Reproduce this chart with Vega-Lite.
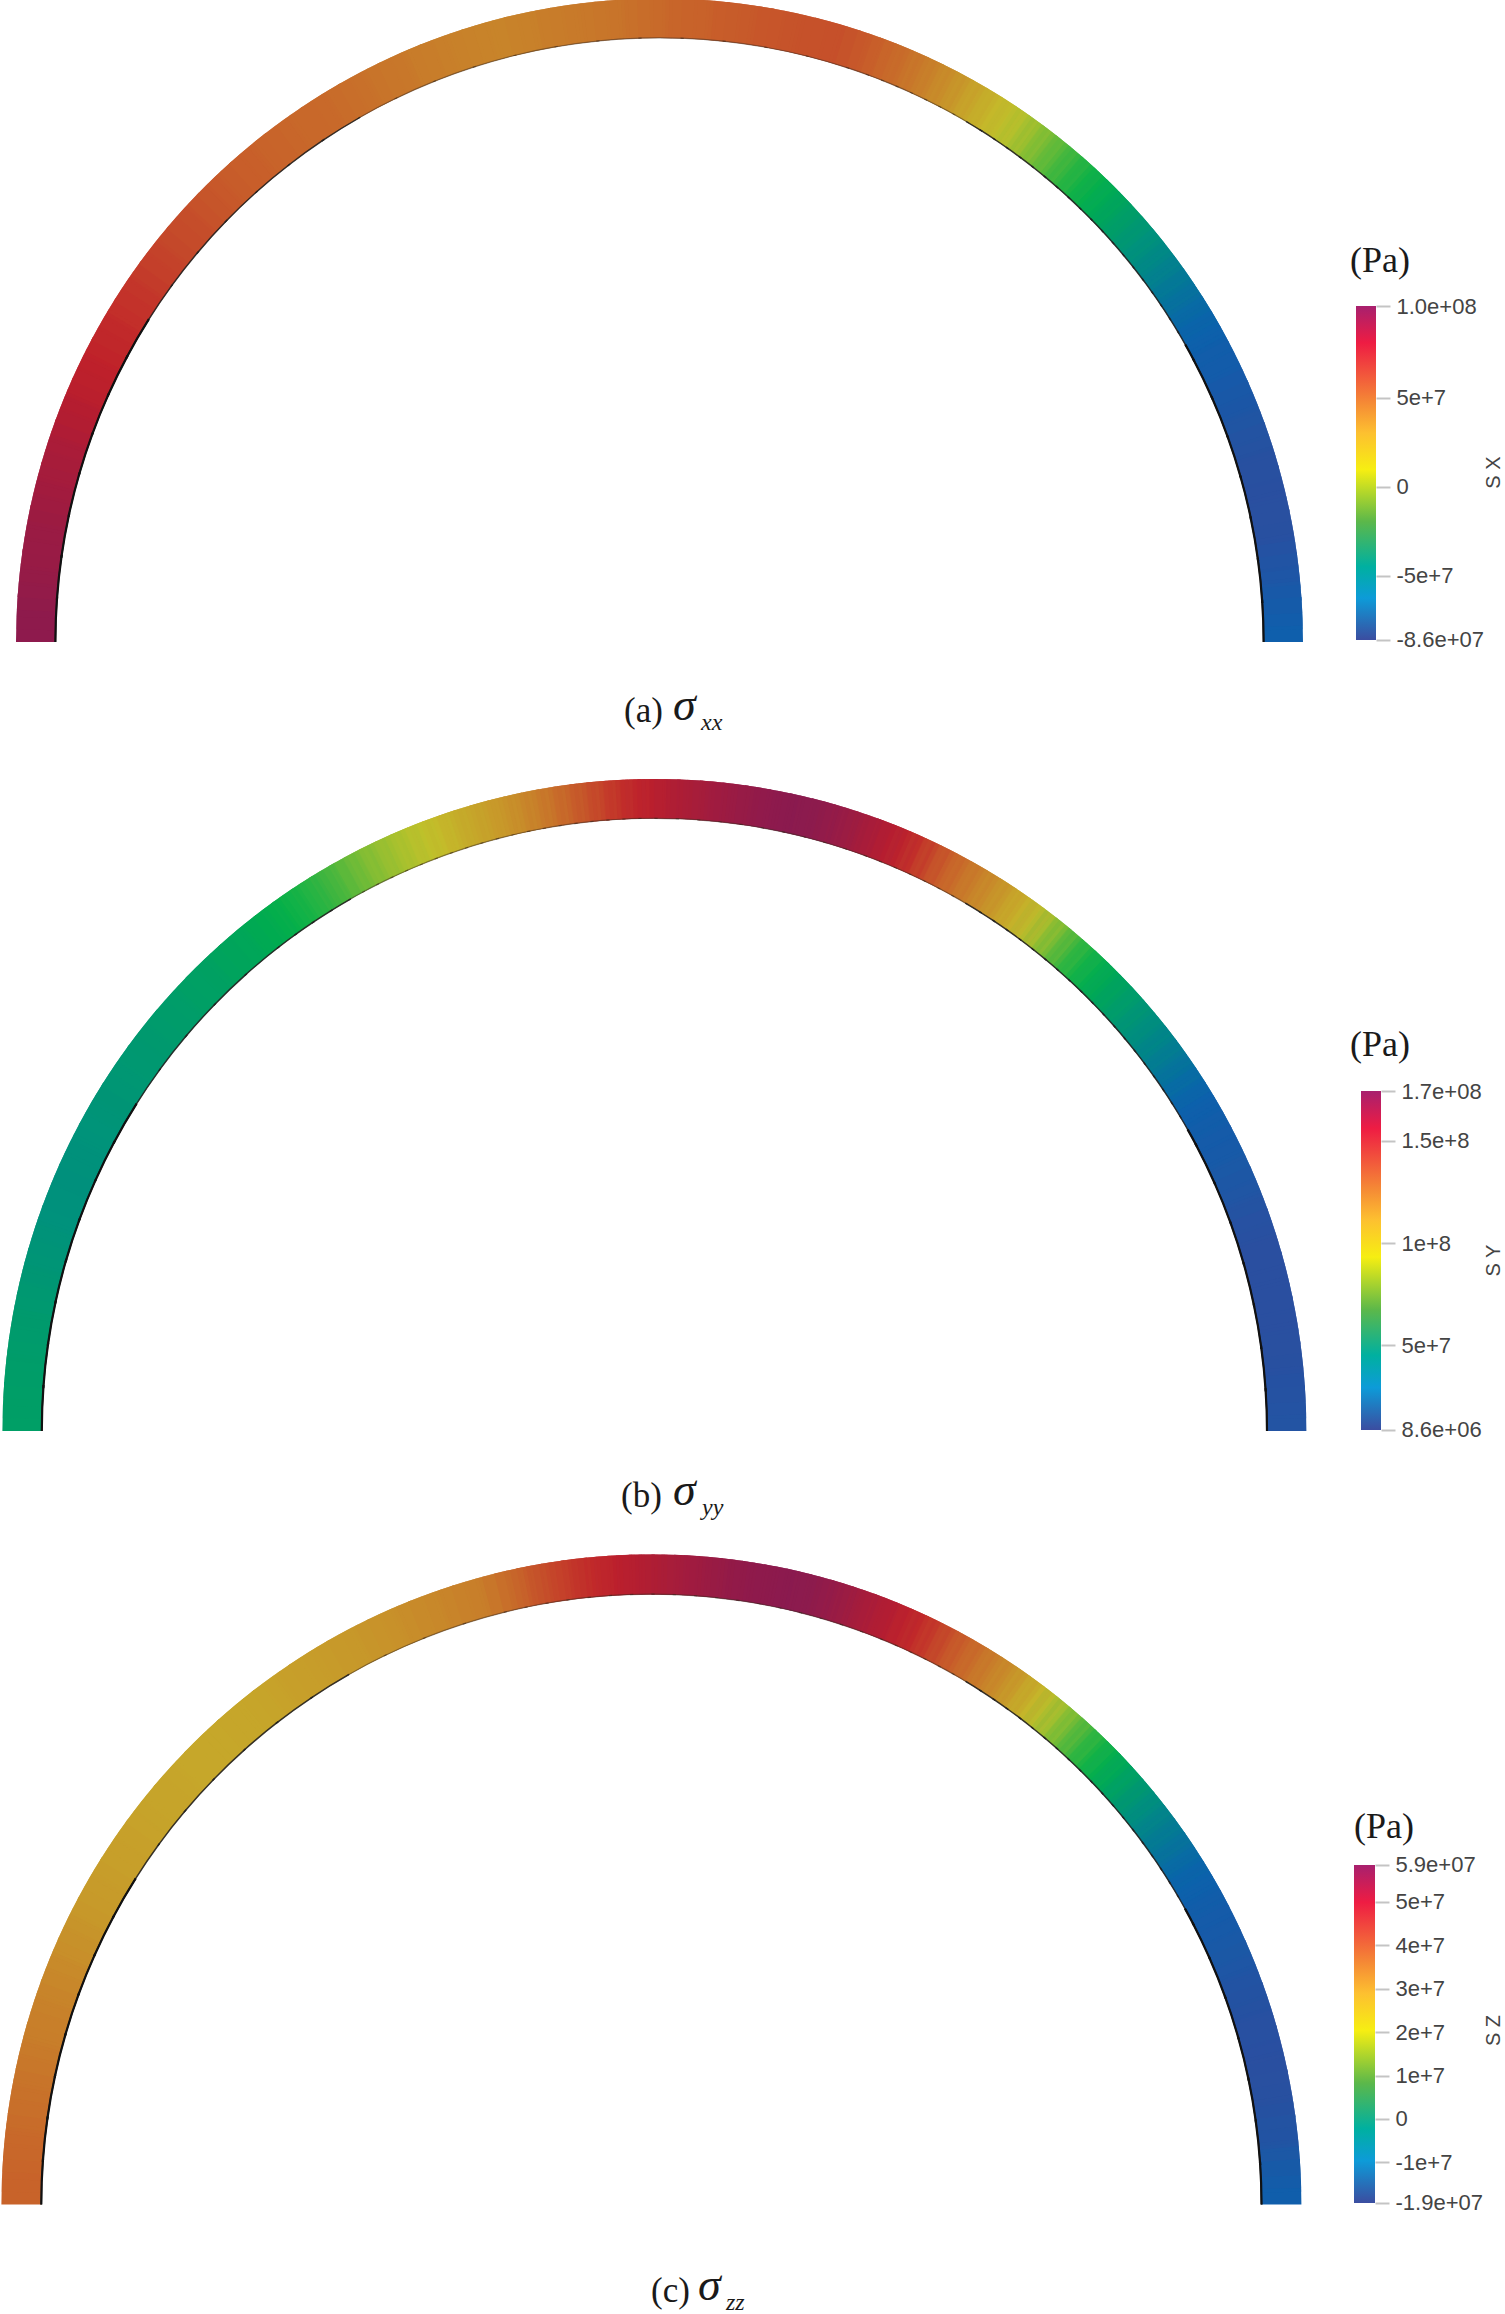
{"$schema":"https://vega.github.io/schema/vega-lite/v6.json","padding":0,"background":"white","autosize":{"type":"pad"},"bounds":"flush","spacing":0,"config":{"view":{"stroke":null}},"resolve":{"scale":{"color":"independent"}},
"datasets":{
"sx":[{"a":-90,"b":-85.7,"v":99.8},{"a":-86,"b":-81.7,"v":96.1},{"a":-82,"b":-77.7,"v":94.2},{"a":-78,"b":-73.7,"v":90.4},{"a":-74,"b":-69.7,"v":86.7},{"a":-70,"b":-65.7,"v":81.1},{"a":-66,"b":-61.7,"v":77.3},{"a":-62,"b":-57.7,"v":73.5},{"a":-58,"b":-53.7,"v":68.9},{"a":-54,"b":-49.7,"v":64.2},{"a":-50,"b":-45.7,"v":60.4},{"a":-46,"b":-41.7,"v":56.7},{"a":-42,"b":-37.7,"v":53.8},{"a":-38,"b":-33.7,"v":51},{"a":-34,"b":-29.7,"v":49.1},{"a":-30,"b":-25.7,"v":45.4},{"a":-26,"b":-21.7,"v":41.6},{"a":-22,"b":-17.7,"v":37.9},{"a":-18,"b":-13.7,"v":36},{"a":-14,"b":-9.7,"v":37.9},{"a":-10,"b":-5.7,"v":41.6},{"a":-6,"b":-1.7,"v":45.4},{"a":-2,"b":2.3,"v":51},{"a":2,"b":6.3,"v":54.8},{"a":6,"b":10.3,"v":57.6},{"a":10,"b":14.3,"v":59.5},{"a":14,"b":18.3,"v":60.4},{"a":18,"b":20.3,"v":54.8},{"a":20,"b":21.8,"v":51},{"a":21.5,"b":23.3,"v":47.3},{"a":23,"b":24.8,"v":41.6},{"a":24.5,"b":26.3,"v":36},{"a":26,"b":27.8,"v":30.4},{"a":27.5,"b":29.3,"v":24.7},{"a":29,"b":30.8,"v":19.1},{"a":30.5,"b":32.3,"v":13.5},{"a":32,"b":33.8,"v":9.7},{"a":33.5,"b":35.3,"v":6},{"a":35,"b":36.8,"v":2.2},{"a":36.5,"b":38.3,"v":-2.5},{"a":38,"b":39.8,"v":-6.2},{"a":39.5,"b":41.3,"v":-10},{"a":41,"b":42.8,"v":-13.7},{"a":42.5,"b":44.3,"v":-16.6},{"a":44,"b":45.8,"v":-22.2},{"a":45.5,"b":47.3,"v":-26.9},{"a":47,"b":48.8,"v":-31.6},{"a":48.5,"b":50.3,"v":-36.3},{"a":50,"b":51.8,"v":-41},{"a":51.5,"b":53.3,"v":-44.7},{"a":53,"b":54.8,"v":-49.4},{"a":54.5,"b":56.3,"v":-53.2},{"a":56,"b":57.8,"v":-56.9},{"a":57.5,"b":59.3,"v":-60.7},{"a":59,"b":60.8,"v":-64.4},{"a":60.5,"b":62.3,"v":-67.2},{"a":62,"b":66.3,"v":-70},{"a":66,"b":70.3,"v":-77.6},{"a":70,"b":74.3,"v":-84.1},{"a":74,"b":78.3,"v":-85.1},{"a":78,"b":82.3,"v":-83},{"a":82,"b":86.3,"v":-75},{"a":86,"b":90,"v":-66}],
"sy":[{"a":-90,"b":-85.7,"v":60},{"a":-86,"b":-81.7,"v":58.3},{"a":-82,"b":-77.7,"v":56.7},{"a":-78,"b":-73.7,"v":54.2},{"a":-74,"b":-69.7,"v":51.7},{"a":-70,"b":-65.7,"v":50.9},{"a":-66,"b":-61.7,"v":51.7},{"a":-62,"b":-57.7,"v":53.4},{"a":-58,"b":-53.7,"v":55},{"a":-54,"b":-49.7,"v":56.7},{"a":-50,"b":-45.7,"v":59.2},{"a":-46,"b":-41.7,"v":61.7},{"a":-42,"b":-37.7,"v":65.8},{"a":-38,"b":-35.7,"v":70.8},{"a":-36,"b":-33.7,"v":72.4},{"a":-34,"b":-31.7,"v":74.9},{"a":-32,"b":-29.7,"v":78.2},{"a":-30,"b":-28.2,"v":81.6},{"a":-28.5,"b":-26.7,"v":84},{"a":-27,"b":-25.2,"v":86.5},{"a":-25.5,"b":-23.7,"v":88.2},{"a":-24,"b":-22.2,"v":89.8},{"a":-22.5,"b":-20.7,"v":92.3},{"a":-21,"b":-19.2,"v":95.6},{"a":-19.5,"b":-17.7,"v":99.8},{"a":-18,"b":-16.2,"v":103.1},{"a":-16.5,"b":-14.7,"v":106.4},{"a":-15,"b":-13.2,"v":109.7},{"a":-13.5,"b":-11.7,"v":113},{"a":-12,"b":-10.2,"v":119.7},{"a":-10.5,"b":-8.7,"v":126.3},{"a":-9,"b":-7.2,"v":133},{"a":-7.5,"b":-5.7,"v":137.9},{"a":-6,"b":-4.2,"v":142.9},{"a":-4.5,"b":-2.7,"v":147.9},{"a":-3,"b":-1.2,"v":152.8},{"a":-1.5,"b":0.3,"v":156.2},{"a":0,"b":2.3,"v":159.5},{"a":2,"b":4.3,"v":162.8},{"a":4,"b":6.3,"v":166.1},{"a":6,"b":8.3,"v":169.4},{"a":8,"b":10.3,"v":171.9},{"a":10,"b":12.3,"v":173.6},{"a":12,"b":14.3,"v":174.4},{"a":14,"b":16.3,"v":171.9},{"a":16,"b":18.3,"v":167.8},{"a":18,"b":20.3,"v":162.8},{"a":20,"b":21.8,"v":157.8},{"a":21.5,"b":23.3,"v":154.5},{"a":23,"b":24.8,"v":147.9},{"a":24.5,"b":26.3,"v":137.9},{"a":26,"b":27.8,"v":131.3},{"a":27.5,"b":29.3,"v":124.7},{"a":29,"b":30.8,"v":118},{"a":30.5,"b":32.3,"v":111.4},{"a":32,"b":33.8,"v":105.6},{"a":33.5,"b":35.3,"v":99.8},{"a":35,"b":36.8,"v":94},{"a":36.5,"b":38.3,"v":88.2},{"a":38,"b":39.8,"v":81.6},{"a":39.5,"b":41.3,"v":76.6},{"a":41,"b":42.8,"v":72.4},{"a":42.5,"b":44.3,"v":69.1},{"a":44,"b":45.8,"v":64.1},{"a":45.5,"b":47.3,"v":60},{"a":47,"b":48.8,"v":55.9},{"a":48.5,"b":50.3,"v":50.9},{"a":50,"b":51.8,"v":47.6},{"a":51.5,"b":53.3,"v":43.4},{"a":53,"b":54.8,"v":39.3},{"a":54.5,"b":56.3,"v":35.1},{"a":56,"b":57.8,"v":30.2},{"a":57.5,"b":59.3,"v":27.7},{"a":59,"b":60.8,"v":25.2},{"a":60.5,"b":62.3,"v":22.7},{"a":62,"b":66.3,"v":20.2},{"a":66,"b":70.3,"v":13.6},{"a":70,"b":74.3,"v":9.4},{"a":74,"b":78.3,"v":8.6},{"a":78,"b":82.3,"v":9.4},{"a":82,"b":86.3,"v":11.1},{"a":86,"b":90,"v":13.6}],
"sz":[{"a":-90,"b":-85.7,"v":38.3},{"a":-86,"b":-81.7,"v":36.7},{"a":-82,"b":-77.7,"v":35.1},{"a":-78,"b":-73.7,"v":33.2},{"a":-74,"b":-69.7,"v":31.6},{"a":-70,"b":-65.7,"v":29.7},{"a":-66,"b":-61.7,"v":27.7},{"a":-62,"b":-57.7,"v":26.6},{"a":-58,"b":-53.7,"v":25.8},{"a":-54,"b":-49.7,"v":25.4},{"a":-50,"b":-45.7,"v":25},{"a":-46,"b":-41.7,"v":24.6},{"a":-42,"b":-37.7,"v":25},{"a":-38,"b":-33.7,"v":25.8},{"a":-34,"b":-29.7,"v":26.6},{"a":-30,"b":-25.7,"v":27.7},{"a":-26,"b":-21.7,"v":28.9},{"a":-22,"b":-17.7,"v":30.9},{"a":-18,"b":-13.7,"v":32.8},{"a":-14,"b":-11.7,"v":38.3},{"a":-12,"b":-9.7,"v":41},{"a":-10,"b":-7.7,"v":43.7},{"a":-8,"b":-5.7,"v":46},{"a":-6,"b":-3.7,"v":48.4},{"a":-4,"b":-1.7,"v":50},{"a":-2,"b":0.3,"v":51.5},{"a":0,"b":2.3,"v":53},{"a":2,"b":4.3,"v":54.6},{"a":4,"b":6.3,"v":55.8},{"a":6,"b":8.3,"v":57},{"a":8,"b":10.3,"v":57.7},{"a":10,"b":12.3,"v":58.1},{"a":12,"b":14.3,"v":58.5},{"a":14,"b":16.3,"v":57.3},{"a":16,"b":18.3,"v":55.4},{"a":18,"b":20.3,"v":53},{"a":20,"b":22.3,"v":51.1},{"a":22,"b":23.8,"v":49.2},{"a":23.5,"b":25.3,"v":47.2},{"a":25,"b":26.8,"v":44.1},{"a":26.5,"b":28.3,"v":40.6},{"a":28,"b":29.8,"v":37.9},{"a":29.5,"b":31.3,"v":35.1},{"a":31,"b":32.8,"v":32},{"a":32.5,"b":34.3,"v":29.3},{"a":34,"b":35.8,"v":26.2},{"a":35.5,"b":37.3,"v":22.7},{"a":37,"b":38.8,"v":20},{"a":38.5,"b":40.3,"v":17.2},{"a":40,"b":41.8,"v":14.9},{"a":41.5,"b":43.3,"v":12.6},{"a":43,"b":44.8,"v":10.6},{"a":44.5,"b":46.3,"v":9.1},{"a":46,"b":47.8,"v":6.3},{"a":47.5,"b":49.3,"v":3.6},{"a":49,"b":50.8,"v":0.9},{"a":50.5,"b":52.3,"v":-1.4},{"a":52,"b":53.8,"v":-3.4},{"a":53.5,"b":55.3,"v":-5.3},{"a":55,"b":56.8,"v":-7.3},{"a":56.5,"b":58.3,"v":-8.8},{"a":58,"b":59.8,"v":-10.4},{"a":59.5,"b":61.3,"v":-11.6},{"a":61,"b":62.8,"v":-12.7},{"a":62.5,"b":66.3,"v":-13.9},{"a":66,"b":70.3,"v":-16.2},{"a":70,"b":74.3,"v":-18.2},{"a":74,"b":78.3,"v":-19.4},{"a":78,"b":82.3,"v":-18.4},{"a":82,"b":86.3,"v":-16},{"a":86,"b":90,"v":-11.5}]
},
"vconcat":[
{"width":1376,"height":770,"layer":[
 {"layer":[
  {"data":{"name":"sx"},"encoding":{"x":{"datum":659.5,"type":"quantitative","scale":{"domain":[0,1376],"nice":false,"zero":false},"axis":null},"y":{"datum":642,"type":"quantitative","scale":{"domain":[770,0],"nice":false,"zero":false},"axis":null},"theta":{"field":"a","type":"quantitative","stack":null,"scale":{"type":"linear","domain":[-90,90],"range":[-1.5708,1.5708]}},"theta2":{"field":"b"},"color":{"field":"v","type":"quantitative","legend":null,"scale":{"domain":[-86,-62.5,-39.1,-15.6,7.9,30.4,54.8,78.2,101.7],"range":["#2b4fa0","#0a62ae","#00907f","#00b04a","#c4c42a","#c8902a","#c8602a","#c01f2a","#8a1a50"],"interpolate":"rgb"}}},
  "layer":[
   {"mark":{"type":"arc","radius":643.5,"radius2":604,"clip":true}},
   {"transform":[{"filter":"datum.a>-87"}],"mark":{"type":"arc","radius":643.5,"radius2":604,"clip":true,"thetaOffset":-0.01963,"theta2Offset":-0.01963,"opacity":0.5}},
   {"transform":[{"filter":"datum.a<85"}],"mark":{"type":"arc","radius":643.5,"radius2":604,"clip":true,"thetaOffset":0.01963,"theta2Offset":0.01963,"opacity":0.33}},
   {"transform":[{"filter":"datum.a<85"}],"mark":{"type":"arc","radius":643.5,"radius2":604,"clip":true,"thetaOffset":0.03927,"theta2Offset":0.03927,"opacity":0.25}},
   {"mark":{"type":"arc","radius":604.8,"radius2":603.6,"fill":"#3a2a20","opacity":0.5,"clip":true}},
   {"transform":[{"filter":"abs(datum.a)>30"}],"mark":{"type":"arc","radius":604.8,"radius2":603.4,"fill":"#222222","opacity":0.8,"clip":true}},
   {"transform":[{"filter":"abs(datum.a)>60"}],"mark":{"type":"arc","radius":605.2,"radius2":603,"fill":"#111111","clip":true}}
  ]},
  {"data":{"values":[{"x":1380,"y":261,"text":"(Pa)"}]},"mark":{"type":"text","font":"Liberation Serif","fontSize":36,"color":"#1a1a1a","align":"center","baseline":"middle"},"encoding":{"x":{"field":"x","type":"quantitative","axis":null},"y":{"field":"y","type":"quantitative","axis":null},"text":{"field":"text"}}},
  {"data":{"values":[{"x":624,"y":722,"text":"(a)"}]},"mark":{"type":"text","font":"Liberation Serif","fontSize":35,"color":"#1a1a1a","align":"left","baseline":"alphabetic"},"encoding":{"x":{"field":"x","type":"quantitative","axis":null},"y":{"field":"y","type":"quantitative","axis":null},"text":{"field":"text"}}},
  {"data":{"values":[{"x":673,"y":720,"text":"σ"}]},"mark":{"type":"text","font":"Liberation Serif","fontStyle":"italic","fontSize":46,"color":"#1a1a1a","align":"left","baseline":"alphabetic"},"encoding":{"x":{"field":"x","type":"quantitative","axis":null},"y":{"field":"y","type":"quantitative","axis":null},"text":{"field":"text"}}},
  {"data":{"values":[{"x":701,"y":730,"text":"xx"}]},"mark":{"type":"text","font":"Liberation Serif","fontStyle":"italic","fontSize":24,"color":"#1a1a1a","align":"left","baseline":"alphabetic"},"encoding":{"x":{"field":"x","type":"quantitative","axis":null},"y":{"field":"y","type":"quantitative","axis":null},"text":{"field":"text"}}}
 ]},
 {"data":{"values":[{"label":"SX","low":-86000000,"high":101700000}]},"mark":{"type":"rect","fill":{"gradient":"linear","x1":0,"y1":1,"x2":0,"y2":0,"stops":[{"offset":0,"color":"#3b4da0"},{"offset":0.125,"color":"#0d9bd8"},{"offset":0.22,"color":"#00b0a0"},{"offset":0.355,"color":"#5cb84a"},{"offset":0.51,"color":"#f6ee12"},{"offset":0.62,"color":"#fdc030"},{"offset":0.71,"color":"#f58a35"},{"offset":0.89,"color":"#ee1c43"},{"offset":1,"color":"#a8206e"}]}},
 "encoding":{"x":{"datum":1356,"type":"quantitative","axis":null},"x2":{"datum":1376},"y":{"field":"low","type":"quantitative","scale":{"domain":[-159060000,273670000],"nice":false,"zero":false},"axis":{"orient":"right","values":[-86000000,-50000000,0,50000000,101700000],"labelExpr":"datum.value==101700000?'1.0e+08':datum.value==50000000?'5e+7':datum.value==0?'0':datum.value==-50000000?'-5e+7':'-8.6e+07'","domain":false,"grid":false,"tickColor":"#c4c4c4","tickWidth":2,"tickSize":14,"labelPadding":6,"labelFont":"Liberation Sans","labelFontSize":22,"labelColor":"#444444","labelOverlap":false,"labelBound":false,"labelFlush":false,"title":"S X","titleFont":"Liberation Sans","titleFontSize":20,"titleFontWeight":"normal","titleColor":"#444444","titleAngle":270,"titleX":117,"titleY":472,"titleAlign":"center","titleBaseline":"middle"}},"y2":{"field":"high"}}}
 ],"resolve":{"scale":{"y":"independent"},"axis":{"y":"independent"}}},
{"width":1381,"height":760,"layer":[
 {"layer":[
  {"data":{"name":"sy"},"encoding":{"x":{"datum":654.4,"type":"quantitative","scale":{"domain":[0,1381],"nice":false,"zero":false},"axis":null},"y":{"datum":1431,"type":"quantitative","scale":{"domain":[1530,770],"nice":false,"zero":false},"axis":null},"theta":{"field":"a","type":"quantitative","stack":null,"scale":{"type":"linear","domain":[-90,90],"range":[-1.5708,1.5708]}},"theta2":{"field":"b"},"color":{"field":"v","type":"quantitative","legend":null,"scale":{"domain":[8.6,29.3,50.1,70.8,91.5,111.4,133,153.7,174.4],"range":["#2b4fa0","#0a62ae","#00907f","#00b04a","#c4c42a","#c8902a","#c8602a","#c01f2a","#8a1a50"],"interpolate":"rgb"}}},
  "layer":[
   {"mark":{"type":"arc","radius":652,"radius2":612.5,"clip":true}},
   {"transform":[{"filter":"datum.a>-87"}],"mark":{"type":"arc","radius":652,"radius2":612.5,"clip":true,"thetaOffset":-0.01963,"theta2Offset":-0.01963,"opacity":0.5}},
   {"transform":[{"filter":"datum.a<85"}],"mark":{"type":"arc","radius":652,"radius2":612.5,"clip":true,"thetaOffset":0.01963,"theta2Offset":0.01963,"opacity":0.33}},
   {"transform":[{"filter":"datum.a<85"}],"mark":{"type":"arc","radius":652,"radius2":612.5,"clip":true,"thetaOffset":0.03927,"theta2Offset":0.03927,"opacity":0.25}},
   {"mark":{"type":"arc","radius":613.3,"radius2":612.1,"fill":"#3a2a20","opacity":0.5,"clip":true}},
   {"transform":[{"filter":"abs(datum.a)>30"}],"mark":{"type":"arc","radius":613.3,"radius2":611.9,"fill":"#222222","opacity":0.8,"clip":true}},
   {"transform":[{"filter":"abs(datum.a)>60"}],"mark":{"type":"arc","radius":613.7,"radius2":611.5,"fill":"#111111","clip":true}}
  ]},
  {"data":{"values":[{"x":1380,"y":1045,"text":"(Pa)"}]},"mark":{"type":"text","font":"Liberation Serif","fontSize":36,"color":"#1a1a1a","align":"center","baseline":"middle"},"encoding":{"x":{"field":"x","type":"quantitative","axis":null},"y":{"field":"y","type":"quantitative","axis":null},"text":{"field":"text"}}},
  {"data":{"values":[{"x":621,"y":1507,"text":"(b)"}]},"mark":{"type":"text","font":"Liberation Serif","fontSize":35,"color":"#1a1a1a","align":"left","baseline":"alphabetic"},"encoding":{"x":{"field":"x","type":"quantitative","axis":null},"y":{"field":"y","type":"quantitative","axis":null},"text":{"field":"text"}}},
  {"data":{"values":[{"x":673,"y":1505,"text":"σ"}]},"mark":{"type":"text","font":"Liberation Serif","fontStyle":"italic","fontSize":46,"color":"#1a1a1a","align":"left","baseline":"alphabetic"},"encoding":{"x":{"field":"x","type":"quantitative","axis":null},"y":{"field":"y","type":"quantitative","axis":null},"text":{"field":"text"}}},
  {"data":{"values":[{"x":702,"y":1515,"text":"yy"}]},"mark":{"type":"text","font":"Liberation Serif","fontStyle":"italic","fontSize":24,"color":"#1a1a1a","align":"left","baseline":"alphabetic"},"encoding":{"x":{"field":"x","type":"quantitative","axis":null},"y":{"field":"y","type":"quantitative","axis":null},"text":{"field":"text"}}}
 ]},
 {"data":{"values":[{"label":"SY","low":8600000,"high":174400000}]},"mark":{"type":"rect","fill":{"gradient":"linear","x1":0,"y1":1,"x2":0,"y2":0,"stops":[{"offset":0,"color":"#3b4da0"},{"offset":0.125,"color":"#0d9bd8"},{"offset":0.22,"color":"#00b0a0"},{"offset":0.355,"color":"#5cb84a"},{"offset":0.51,"color":"#f6ee12"},{"offset":0.62,"color":"#fdc030"},{"offset":0.71,"color":"#f58a35"},{"offset":0.89,"color":"#ee1c43"},{"offset":1,"color":"#a8206e"}]}},
 "encoding":{"x":{"datum":1361,"type":"quantitative","axis":null},"x2":{"datum":1381},"y":{"field":"low","type":"quantitative","scale":{"domain":[-40310000,331400000],"nice":false,"zero":false},"axis":{"orient":"right","values":[8600000,50000000,100000000,150000000,174400000],"labelExpr":"datum.value==174400000?'1.7e+08':datum.value==150000000?'1.5e+8':datum.value==100000000?'1e+8':datum.value==50000000?'5e+7':'8.6e+06'","domain":false,"grid":false,"tickColor":"#c4c4c4","tickWidth":2,"tickSize":14,"labelPadding":6,"labelFont":"Liberation Sans","labelFontSize":22,"labelColor":"#444444","labelOverlap":false,"labelBound":false,"labelFlush":false,"title":"S Y","titleFont":"Liberation Sans","titleFontSize":20,"titleFontWeight":"normal","titleColor":"#444444","titleAngle":270,"titleX":112,"titleY":490,"titleAlign":"center","titleBaseline":"middle"}},"y2":{"field":"high"}}}
 ],"resolve":{"scale":{"y":"independent"},"axis":{"y":"independent"}}},
{"width":1375,"height":784,"layer":[
 {"layer":[
  {"data":{"name":"sz"},"encoding":{"x":{"datum":651.4,"type":"quantitative","scale":{"domain":[0,1375],"nice":false,"zero":false},"axis":null},"y":{"datum":2204.4,"type":"quantitative","scale":{"domain":[2314,1530],"nice":false,"zero":false},"axis":null},"theta":{"field":"a","type":"quantitative","stack":null,"scale":{"type":"linear","domain":[-90,90],"range":[-1.5708,1.5708]}},"theta2":{"field":"b"},"color":{"field":"v","type":"quantitative","legend":null,"scale":{"domain":[-19.35,-9.6,0.1,9.8,19.6,28.9,39,48.8,58.5],"range":["#2b4fa0","#0a62ae","#00907f","#00b04a","#c4c42a","#c8902a","#c8602a","#c01f2a","#8a1a50"],"interpolate":"rgb"}}},
  "layer":[
   {"mark":{"type":"arc","radius":650,"radius2":610,"clip":true}},
   {"transform":[{"filter":"datum.a>-87"}],"mark":{"type":"arc","radius":650,"radius2":610,"clip":true,"thetaOffset":-0.01963,"theta2Offset":-0.01963,"opacity":0.5}},
   {"transform":[{"filter":"datum.a<85"}],"mark":{"type":"arc","radius":650,"radius2":610,"clip":true,"thetaOffset":0.01963,"theta2Offset":0.01963,"opacity":0.33}},
   {"transform":[{"filter":"datum.a<85"}],"mark":{"type":"arc","radius":650,"radius2":610,"clip":true,"thetaOffset":0.03927,"theta2Offset":0.03927,"opacity":0.25}},
   {"mark":{"type":"arc","radius":610.8,"radius2":609.6,"fill":"#3a2a20","opacity":0.5,"clip":true}},
   {"transform":[{"filter":"abs(datum.a)>30"}],"mark":{"type":"arc","radius":610.8,"radius2":609.4,"fill":"#222222","opacity":0.8,"clip":true}},
   {"transform":[{"filter":"abs(datum.a)>60"}],"mark":{"type":"arc","radius":611.2,"radius2":609,"fill":"#111111","clip":true}}
  ]},
  {"data":{"values":[{"x":1384,"y":1827,"text":"(Pa)"}]},"mark":{"type":"text","font":"Liberation Serif","fontSize":36,"color":"#1a1a1a","align":"center","baseline":"middle"},"encoding":{"x":{"field":"x","type":"quantitative","axis":null},"y":{"field":"y","type":"quantitative","axis":null},"text":{"field":"text"}}},
  {"data":{"values":[{"x":651,"y":2302,"text":"(c)"}]},"mark":{"type":"text","font":"Liberation Serif","fontSize":35,"color":"#1a1a1a","align":"left","baseline":"alphabetic"},"encoding":{"x":{"field":"x","type":"quantitative","axis":null},"y":{"field":"y","type":"quantitative","axis":null},"text":{"field":"text"}}},
  {"data":{"values":[{"x":698,"y":2300,"text":"σ"}]},"mark":{"type":"text","font":"Liberation Serif","fontStyle":"italic","fontSize":46,"color":"#1a1a1a","align":"left","baseline":"alphabetic"},"encoding":{"x":{"field":"x","type":"quantitative","axis":null},"y":{"field":"y","type":"quantitative","axis":null},"text":{"field":"text"}}},
  {"data":{"values":[{"x":726,"y":2310,"text":"zz"}]},"mark":{"type":"text","font":"Liberation Serif","fontStyle":"italic","fontSize":24,"color":"#1a1a1a","align":"left","baseline":"alphabetic"},"encoding":{"x":{"field":"x","type":"quantitative","axis":null},"y":{"field":"y","type":"quantitative","axis":null},"text":{"field":"text"}}}
 ]},
 {"data":{"values":[{"label":"SZ","low":-19350000,"high":58500000}]},"mark":{"type":"rect","fill":{"gradient":"linear","x1":0,"y1":1,"x2":0,"y2":0,"stops":[{"offset":0,"color":"#3b4da0"},{"offset":0.125,"color":"#0d9bd8"},{"offset":0.22,"color":"#00b0a0"},{"offset":0.355,"color":"#5cb84a"},{"offset":0.51,"color":"#f6ee12"},{"offset":0.62,"color":"#fdc030"},{"offset":0.71,"color":"#f58a35"},{"offset":0.89,"color":"#ee1c43"},{"offset":1,"color":"#a8206e"}]}},
 "encoding":{"x":{"datum":1354,"type":"quantitative","axis":null},"x2":{"datum":1375},"y":{"field":"low","type":"quantitative","scale":{"domain":[-44920000,135660000],"nice":false,"zero":false},"axis":{"orient":"right","values":[-19350000,-10000000,0,10000000,20000000,30000000,40000000,50000000,58500000],"labelExpr":"datum.value==58500000?'5.9e+07':datum.value==50000000?'5e+7':datum.value==40000000?'4e+7':datum.value==30000000?'3e+7':datum.value==20000000?'2e+7':datum.value==10000000?'1e+7':datum.value==0?'0':datum.value==-10000000?'-1e+7':'-1.9e+07'","domain":false,"grid":false,"tickColor":"#c4c4c4","tickWidth":2,"tickSize":14,"labelPadding":6,"labelFont":"Liberation Sans","labelFontSize":22,"labelColor":"#444444","labelOverlap":false,"labelBound":false,"labelFlush":false,"title":"S Z","titleFont":"Liberation Sans","titleFontSize":20,"titleFontWeight":"normal","titleColor":"#444444","titleAngle":270,"titleX":118,"titleY":500,"titleAlign":"center","titleBaseline":"middle"}},"y2":{"field":"high"}}}
 ],"resolve":{"scale":{"y":"independent"},"axis":{"y":"independent"}}}
]}
